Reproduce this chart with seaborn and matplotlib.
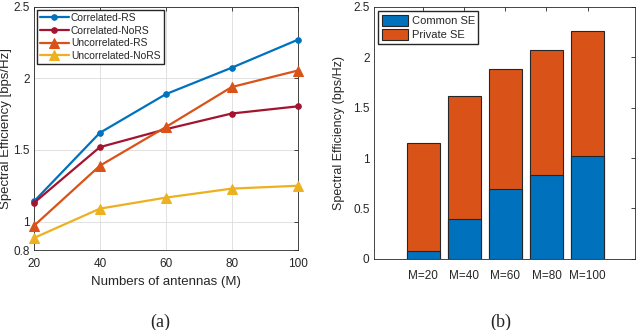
import pandas as pd
import matplotlib
matplotlib.use("Agg")
import matplotlib.pyplot as plt
import seaborn as sns

# dados
antennas = [20, 40, 60, 80, 100]
corr_rs = [1.14, 1.62, 1.89, 2.075, 2.27]
corr_nors = [1.13, 1.52, 1.645, 1.755, 1.805]
uncorr_rs = [0.97, 1.39, 1.66, 1.94, 2.055]
uncorr_nors = [0.885, 1.09, 1.167, 1.23, 1.25]

bar_labels = ["M=20", "M=40", "M=60", "M=80", "M=100"]
common_se = [0.073, 0.394, 0.69, 0.83, 1.02]
private_se = [1.073, 1.226, 1.197, 1.24, 1.24]

series_names = ["Correlated-RS", "Correlated-NoRS", "Uncorrelated-RS", "Uncorrelated-NoRS"]
colors = ["#0072BD", "#A2142F", "#D95319", "#EDB120"]
markers = ["o", "o", "^", "^"]
msizes = [4, 4, 6.5, 6.5]

sns.set_theme(style="white")
plt.rcParams["font.family"] = ["Liberation Sans", "DejaVu Sans"]
plt.rcParams["font.size"] = 8
plt.rcParams["axes.edgecolor"] = "#262626"
plt.rcParams["xtick.color"] = "#262626"
plt.rcParams["ytick.color"] = "#262626"

fig = plt.figure(figsize=(6.4, 3.3), dpi=100)
ax1 = fig.add_axes([0.053, 0.242, 0.412, 0.737])
ax2 = fig.add_axes([0.584, 0.216, 0.408, 0.763])

# Gráfico (a) - eficiência espectral vs antenas
df = pd.DataFrame({
    "M": antennas * 4,
    "SE": corr_rs + corr_nors + uncorr_rs + uncorr_nors,
    "serie": sum([[n] * len(antennas) for n in series_names], []),
})
for name, c, m, ms in zip(series_names, colors, markers, msizes):
    sub = df[df["serie"] == name]
    sns.lineplot(data=sub, x="M", y="SE", ax=ax1, color=c, marker=m,
                 markersize=ms, markeredgecolor=c, linewidth=1.6, label=name,
                 clip_on=False, zorder=3)
ax1.set_xlim(20, 100)
ax1.set_ylim(0.8, 2.5)
ax1.set_xticks([20, 40, 60, 80, 100])
ax1.set_yticks([0.8, 1, 1.5, 2, 2.5])
ax1.set_yticklabels(["0.8", "1", "1.5", "2", "2.5"])
ax1.grid(True, color="#dcdcdc", linewidth=0.6)
ax1.set_xlabel("Numbers of antennas (M)", fontsize=9.5, labelpad=4)
ax1.set_ylabel("Spectral Efficiency [bps/Hz]", fontsize=9.5)
ax1.yaxis.set_label_coords(-0.085, 0.5)
ax1.legend(loc="upper left", fontsize=7.4, frameon=True, fancybox=False,
           edgecolor="#262626", framealpha=1, handlelength=2.8,
           borderpad=0.3, labelspacing=0.25, handletextpad=0.2,
           borderaxespad=0.3)

# Gráfico (b) - SE comum e privada empilhadas
total_se = [c + p for c, p in zip(common_se, private_se)]
sns.barplot(x=bar_labels, y=total_se, ax=ax2, color="#D95319", saturation=1,
            width=0.8, edgecolor="#262626", linewidth=0.8, label="Private SE")
sns.barplot(x=bar_labels, y=common_se, ax=ax2, color="#0072BD", saturation=1,
            width=0.8, edgecolor="#262626", linewidth=0.8, label="Common SE")
ax2.set_xlim(-1.2, 5.15)
ax2.set_ylim(0, 2.5)
ax2.set_yticks([0, 0.5, 1, 1.5, 2, 2.5])
ax2.set_yticklabels(["0", "0.5", "1", "1.5", "2", "2.5"])
ax2.set_ylabel("Spectral Efficiency (bps/Hz)", fontsize=9)
ax2.yaxis.set_label_coords(-0.11, 0.5)
h, l = ax2.get_legend_handles_labels()
ax2.legend(h[::-1], l[::-1], loc="upper left", fontsize=8, frameon=True,
           fancybox=False, edgecolor="#262626", framealpha=1,
           handlelength=2.4, handleheight=1.2, borderpad=0.3,
           labelspacing=0.25, handletextpad=0.3, borderaxespad=0.4)

for ax in (ax1, ax2):
    for s in ax.spines.values():
        s.set_visible(True)
        s.set_linewidth(0.6)
    ax.tick_params(direction="in", top=True, right=True, length=3,
                   width=0.6, labelsize=8.5, pad=3)
ax1.tick_params(axis="x", pad=6)
ax2.tick_params(axis="x", pad=8)

fig.text(0.25, 0.01, "(a)", family=["Liberation Serif"], fontsize=13, ha="center")
fig.text(0.782, 0.01, "(b)", family=["Liberation Serif"], fontsize=13, ha="center")

fig.savefig("out.png", dpi=100)
